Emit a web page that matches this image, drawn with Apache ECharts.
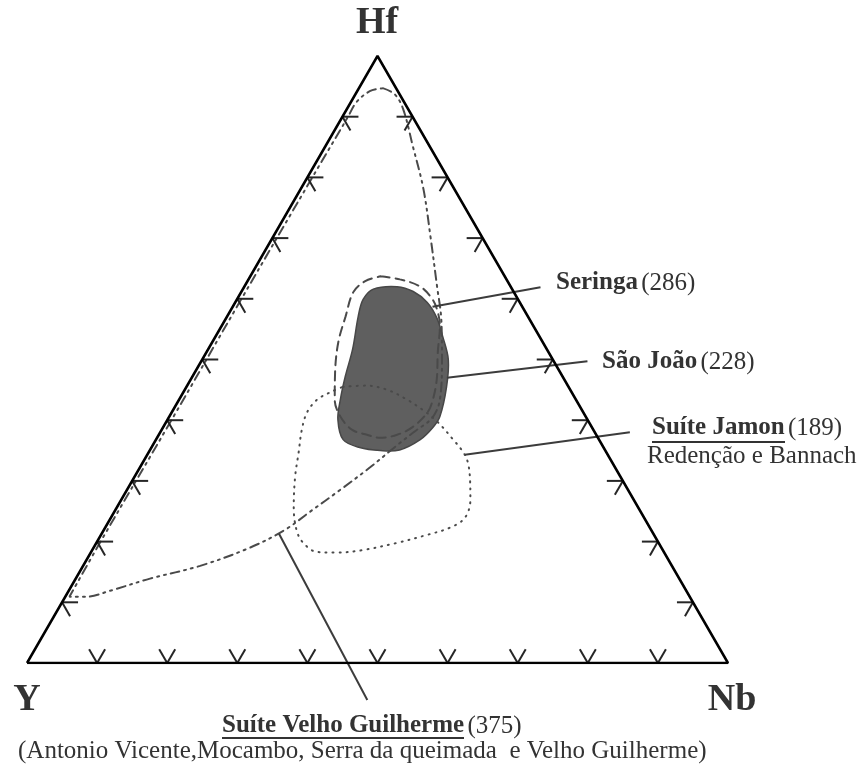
<!DOCTYPE html>
<html>
<head>
<meta charset="utf-8">
<script src="https://cdn.jsdelivr.net/npm/echarts@6/dist/echarts.min.js"></script>
<style>
  html, body { margin: 0; padding: 0; background: #fff; }
  #main { width: 859px; height: 769px; }
</style>
</head>
<body>
<div id="main"></div>
<script>
// ternary Hf - Nb - Y diagram, points are [Hf, Nb] in %, Y = 100 - Hf - Nb
const vertices = ['Hf', 'Y', 'Nb'];
const tickFractions = [10, 20, 30, 40, 50, 60, 70, 80, 90];

const fieldNames = ['Seringa', 'São João', 'Suíte Jamon', 'Suíte Velho Guilherme'];
const fieldCounts = [286, 228, 189, 375];
const jamonSub = 'Redenção e Bannach';
const velhoSub = '(Antonio Vicente,Mocambo, Serra da queimada  e Velho Guilherme)';

const velhoGuilherme = [
  [94.7, 3.4], [93.7, 5.6], [91.3, 8.0], [85.1, 12.5], [78.1, 17.5], [70.3, 22.4],
  [62.0, 27.5], [56.6, 30.8], [50.0, 34.2], [43.4, 37.2], [40.4, 37.6], [38.1, 36.2],
  [35.6, 34.7], [32.2, 32.8], [28.5, 30.4], [24.9, 27.9], [21.9, 25.8], [19.0, 22.3],
  [16.0, 16.7], [13.9, 10.6], [11.9, 5.9], [10.9, 2.9], [10.9, 0.6], [20, 0.5],
  [40, 0.6], [60, 0.6], [80, 0.7], [90, 0.8], [92.4, 0.8], [94.2, 1.8], [94.7, 3.4]
];
const seringa = [
  [63.7, 18.6], [63.2, 21.6], [62.0, 25.1], [59.9, 27.9], [57.8, 29.7], [55.4, 31.2],
  [51.2, 33.0], [46.7, 35.1], [43.4, 36.2], [41.3, 36.5], [38.9, 35.6], [37.6, 34.0],
  [37.1, 31.8], [37.6, 29.7], [38.4, 27.2], [40.6, 24.4], [43.4, 22.2], [47.9, 20.0],
  [52.8, 18.0], [57.1, 16.9], [61.1, 16.0], [62.9, 16.8], [63.7, 18.6]
];
const saoJoao = [
  [61.6, 18.6], [62.0, 21.8], [61.2, 24.5], [59.4, 27.4], [56.9, 30.0], [53.8, 32.4],
  [50.0, 35.1], [45.5, 37.1], [40.6, 38.6], [38.8, 38.5], [36.8, 37.7], [35.1, 35.6],
  [35.0, 32.9], [35.5, 29.7], [36.8, 26.7], [40.1, 24.3], [43.4, 23.0], [47.2, 21.8],
  [51.7, 20.6], [57.1, 18.7], [59.9, 18.0]
];
const jamon = [
  [45.5, 22.3], [45.7, 25.6], [45.0, 28.9], [43.4, 32.5], [41.7, 35.6], [39.8, 38.6],
  [36.8, 42.4], [34.7, 44.9], [33.0, 46.4], [30.2, 48.1], [26.9, 49.8], [23.9, 50.5],
  [22.3, 49.2], [21.1, 46.5], [19.8, 42.9], [18.6, 38.6], [18.2, 35.1], [18.3, 32.2],
  [19.8, 29.5], [21.9, 27.5], [25.7, 25.2], [30.7, 22.9], [34.7, 21.4], [38.4, 20.0],
  [41.3, 19.3], [43.4, 19.7], [44.7, 21.1], [45.5, 22.3]
];

// leader lines from each field to its label
const leaderSeringa = [[58.7, 28.5], [61.9, 42.3]];
const leaderSaoJoao = [[47.0, 36.4], [49.7, 55.1]];
const leaderJamon = [[34.3, 45.3], [38.0, 67.0]];
const leaderVelho = [[21.3, 25.3], [-6.1, 51.6]];

const SQ = Math.sqrt(3) / 2;
function toXY(p) {
  return [p[1] / 100 + p[0] / 200, p[0] / 100 * SQ];
}

const chart = echarts.init(document.getElementById('main'), null, { renderer: 'canvas' });

const triangle = [[0, 0], [100, 0], [0, 100], [0, 0]].map(toXY);

const ticks = [];
tickFractions.forEach(f => {
  ticks.push(toXY([0, f]).concat([0]));        // bottom edge
  ticks.push(toXY([f, 0]).concat([1]));        // left edge
  ticks.push(toXY([f, 100 - f]).concat([2]));  // right edge
});

function outline(data, dash, z) {
  return {
    type: 'line',
    data: data.map(toXY),
    smooth: 0.35,
    symbol: 'none',
    silent: true,
    z: z,
    lineStyle: { color: '#4a4a4a', width: 2, type: dash, cap: 'round' }
  };
}

function leader(data) {
  return {
    type: 'line',
    data: data.map(toXY),
    symbol: 'none',
    clip: false,
    silent: true,
    z: 6,
    lineStyle: { color: '#3c3c3c', width: 2 }
  };
}

const L = 16;
const c60 = 0.5, s60 = SQ;
const tickDirs = [
  [[-c60 * L, -s60 * L], [c60 * L, -s60 * L]],
  [[L, 0], [c60 * L, s60 * L]],
  [[-L, 0], [-c60 * L, s60 * L]]
];

const serif = '"Liberation Serif", "Times New Roman", serif';
const textColor = '#333';

function txt(x, y, text, size, weight, align) {
  return {
    type: 'text', x: x, y: y,
    style: {
      text: text, fill: textColor, font: weight + ' ' + size + 'px ' + serif,
      textAlign: align || 'left', textVerticalAlign: 'middle'
    }
  };
}

function rich(x, y, name, count) {
  return {
    type: 'text', x: x, y: y,
    style: {
      text: '{b|' + name + '} {n|(' + count + ')}',
      textVerticalAlign: 'middle',
      rich: {
        b: { fontFamily: serif, fontSize: 25, fontWeight: 'bold', fill: textColor },
        n: { fontFamily: serif, fontSize: 25, fontWeight: 'normal', fill: textColor }
      }
    }
  };
}

const option = {
  animation: false,
  grid: { left: 27, right: 131, top: 56, bottom: 106 },
  xAxis: { type: 'value', min: 0, max: 1, show: false },
  yAxis: { type: 'value', min: 0, max: SQ, show: false },
  series: [
    {
      type: 'custom',
      data: [[0, 0]],
      silent: true,
      z: 1,
      renderItem: (params, api) => ({
        type: 'polygon',
        shape: { points: saoJoao.map(p => api.coord(toXY(p))), smooth: 0.35 },
        style: { fill: '#5f5f5f', stroke: '#474747', lineWidth: 1.5 }
      })
    },
    outline(velhoGuilherme, [9, 5, 2, 5, 2, 5], 3),
    outline(seringa, [9, 6], 3),
    outline(jamon, [1, 6], 3),
    leader(leaderSeringa),
    leader(leaderSaoJoao),
    leader(leaderJamon),
    leader(leaderVelho),
    {
      type: 'line',
      data: triangle,
      symbol: 'none',
      silent: true,
      z: 8,
      lineStyle: { color: '#000', width: 2.5 }
    },
    {
      type: 'custom',
      data: ticks,
      silent: true,
      z: 7,
      renderItem: (params, api) => {
        const p = api.coord([api.value(0), api.value(1)]);
        const d = tickDirs[api.value(2)];
        return {
          type: 'group',
          children: d.map(v => ({
            type: 'line',
            shape: { x1: p[0], y1: p[1], x2: p[0] + v[0], y2: p[1] + v[1] },
            style: { stroke: '#262626', lineWidth: 2 }
          }))
        };
      }
    }
  ],
  graphic: [
    txt(377, 23, vertices[0], 38, 'bold', 'center'),
    txt(27, 700, vertices[1], 38, 'bold', 'center'),
    txt(732, 700, vertices[2], 38, 'bold', 'center'),
    rich(556, 283, fieldNames[0], fieldCounts[0]),
    rich(602, 362, fieldNames[1], fieldCounts[1]),
    rich(652, 428, fieldNames[2], fieldCounts[2]),
    txt(647, 456, jamonSub, 25, 'normal'),
    rich(222, 726, fieldNames[3], fieldCounts[3]),
    txt(18, 751, velhoSub, 25, 'normal'),
    { type: 'line', shape: { x1: 652, y1: 442, x2: 785, y2: 442 }, style: { stroke: textColor, lineWidth: 1.8 } },
    { type: 'line', shape: { x1: 222, y1: 738, x2: 464, y2: 738 }, style: { stroke: textColor, lineWidth: 1.8 } }
  ]
};

chart.setOption(option);
</script>
</body>
</html>
